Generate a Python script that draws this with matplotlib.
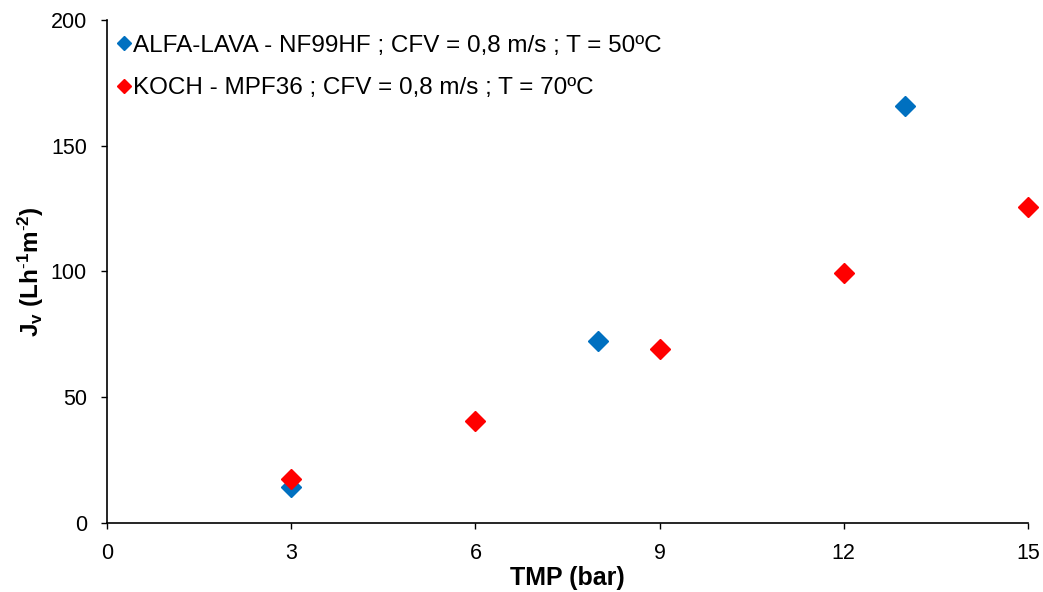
import matplotlib
matplotlib.use("Agg")
import matplotlib.pyplot as plt

# data
alfa_tmp = [3, 8, 13]
alfa_jv = [14.5, 72.5, 166]
koch_tmp = [3, 6, 9, 12, 15]
koch_jv = [17.5, 40.5, 69, 99.5, 125.5]

ALFA_LABEL = "ALFA-LAVA - NF99HF ; CFV = 0,8 m/s ; T = 50ºC"
KOCH_LABEL = "KOCH - MPF36 ; CFV = 0,8 m/s ; T = 70ºC"

plt.rcParams["font.family"] = ["Liberation Sans", "DejaVu Sans"]
plt.rcParams["mathtext.fontset"] = "custom"
plt.rcParams["mathtext.rm"] = "Liberation Sans"
plt.rcParams["mathtext.bf"] = "Liberation Sans:bold"
plt.rcParams["mathtext.it"] = "Liberation Sans:italic"

fig = plt.figure(figsize=(10.43, 5.92), dpi=100)
ax = fig.add_axes([0.1026, 0.1166, 0.8830, 0.8496])

ax.plot(alfa_tmp, alfa_jv, linestyle="none", marker="D", markersize=10.5,
        color="#0070C0", label=ALFA_LABEL, clip_on=False, zorder=3)
ax.plot(koch_tmp, koch_jv, linestyle="none", marker="D", markersize=10.5,
        color="#FF0000", label=KOCH_LABEL, clip_on=False, zorder=3)

ax.set_xlim(0, 15)
ax.set_ylim(0, 200)
ax.set_xticks([0, 3, 6, 9, 12, 15])
ax.set_yticks([0, 50, 100, 150, 200])
ax.tick_params(labelsize=15.5, length=4.5, width=1, pad=10,
               direction="out", color="black")

for side in ("top", "right"):
    ax.spines[side].set_visible(False)
for side in ("left", "bottom"):
    ax.spines[side].set_linewidth(1.2)

ax.set_xlabel("TMP (bar)", fontsize=18, fontweight="bold", labelpad=1)
ax.set_ylabel(r"J$_\mathbf{v}$ (Lh$^{\mathbf{\text{-}1}}$m$^{\mathbf{\text{-}2}}$)",
              fontsize=17.5, fontweight="bold", labelpad=3)

ax.legend(loc="upper left", frameon=False, fontsize=17.5, markerscale=0.72,
          handlelength=0.6, handletextpad=0.05, labelspacing=0.85,
          borderaxespad=0.2, bbox_to_anchor=(-0.005, 1.0))

fig.savefig("out.png", dpi=100)
